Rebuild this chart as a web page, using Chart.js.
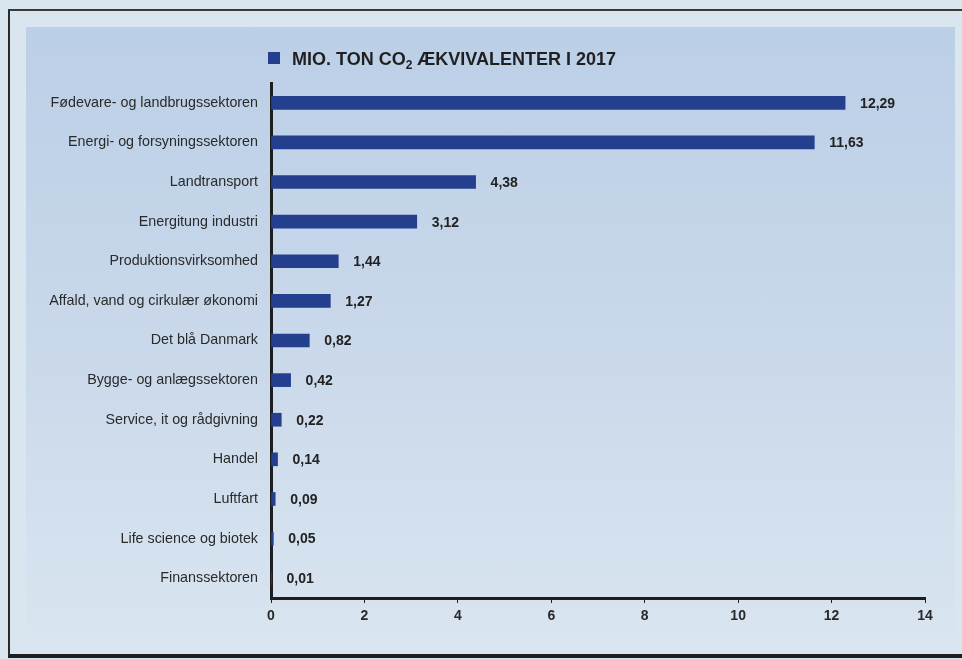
<!DOCTYPE html>
<html>
<head>
<meta charset="utf-8">
<script src="https://cdn.jsdelivr.net/npm/chart.js@4/dist/chart.umd.min.js"></script>
<style>
  html, body { margin: 0; padding: 0; }
  body { width: 962px; height: 659px; background: #d9e5ef; position: relative; overflow: hidden; }
  #frame {
    position: absolute; left: 8px; top: 9px; width: 980px; height: 643px;
    border-left: 2px solid #2a2a2a; border-top: 2px solid #3a3a3a; border-bottom: 4px solid #1e1e1e;
  }
  #panel {
    position: absolute; left: 26px; top: 27px; width: 929px; height: 622px;
    background: linear-gradient(to bottom, #bbcfe7 0%, #c9d8ea 50%, #d9e5f0 100%);
  }
  #chartCo2 { position: absolute; left: 0; top: 0; }
</style>
</head>
<body>
<div id="frame"></div>
<div id="panel"></div>
<canvas id="chartCo2" width="962" height="659"></canvas>
<script>
/* ---------- data ---------- */
const sektorer = [
    "Fødevare- og landbrugssektoren",
    "Energi- og forsyningssektoren",
    "Landtransport",
    "Energitung industri",
    "Produktionsvirksomhed",
    "Affald, vand og cirkulær økonomi",
    "Det blå Danmark",
    "Bygge- og anlægssektoren",
    "Service, it og rådgivning",
    "Handel",
    "Luftfart",
    "Life science og biotek",
    "Finanssektoren"
];
const udledning = [12.29, 11.63, 4.38, 3.12, 1.44, 1.27, 0.82, 0.42, 0.22, 0.14, 0.09, 0.05, 0.01];
const xTicks = [0, 2, 4, 6, 8, 10, 12, 14];

const titelDel1 = "MIO. TON CO";
const titelSub = "2";
const titelDel2 = " ÆKVIVALENTER I 2017";

const BAR_FARVE = "#233f8e";
const FONT = "'Liberation Sans', Arial, sans-serif";

/* ---------- titel med firkant ---------- */
const titelPlugin = {
    id: "titel",
    afterDraw(chart) {
        const c = chart.ctx;
        const x0 = chart.chartArea.left - 3;
        const base = 65;
        c.save();
        c.fillStyle = BAR_FARVE;
        c.fillRect(x0, 52, 12, 12);
        c.fillStyle = "#1f1f1f";
        c.textBaseline = "alphabetic";
        c.textAlign = "left";
        c.font = "bold 18px " + FONT;
        let x = x0 + 24;
        c.fillText(titelDel1, x, base);
        x += c.measureText(titelDel1).width;
        c.font = "bold 12px " + FONT;
        c.fillText(titelSub, x, base + 4);
        x += c.measureText(titelSub).width;
        c.font = "bold 18px " + FONT;
        c.fillText(titelDel2, x, base);
        c.restore();
    }
};

/* ---------- værdier ved søjlerne ---------- */
const vaerdiPlugin = {
    id: "vaerdier",
    afterDatasetsDraw(chart) {
        const c = chart.ctx;
        const meta = chart.getDatasetMeta(0);
        c.save();
        c.font = "bold 14px " + FONT;
        c.fillStyle = "#222";
        c.textAlign = "left";
        c.textBaseline = "middle";
        meta.data.forEach((bar, i) => {
            const txt = udledning[i].toFixed(2).replace(".", ",");
            c.fillText(txt, Math.max(bar.x, chart.chartArea.left) + 15, bar.y + 1);
        });
        c.restore();
    }
};

new Chart(document.getElementById("chartCo2"), {
    type: "bar",
    data: {
        labels: sektorer,
        datasets: [{
            label: titelDel1 + "₂" + titelDel2,
            data: udledning,
            backgroundColor: BAR_FARVE,
            barThickness: 13
        }]
    },
    options: {
        indexAxis: "y",
        responsive: false,
        animation: false,
        devicePixelRatio: 1,
        layout: { padding: { top: 83, right: 37, left: 0, bottom: 0 } },
        plugins: {
            legend: { display: false },
            tooltip: { enabled: false }
        },
        scales: {
            x: {
                min: 0,
                max: 14,
                afterBuildTicks: s => { s.ticks = xTicks.map(v => ({ value: v })); },
                afterFit: s => { s.height = 61; },
                grid: { drawOnChartArea: false, drawTicks: true, tickLength: 5, color: "#222", lineWidth: 1 },
                border: { display: true, color: "#1e1e1e", width: 3 },
                ticks: {
                    padding: 5,
                    color: "#2a2a2a",
                    font: { family: FONT, size: 14, weight: "bold" },
                    callback: v => String(v)
                }
            },
            y: {
                afterFit: s => { s.width = 271; },
                grid: { display: false, drawTicks: false },
                border: { display: true, color: "#1e1e1e", width: 3 },
                ticks: {
                    padding: 13,
                    color: "#2a2a2a",
                    font: { family: FONT, size: 14.3 }
                }
            }
        }
    },
    plugins: [titelPlugin, vaerdiPlugin]
});
</script>
</body>
</html>
